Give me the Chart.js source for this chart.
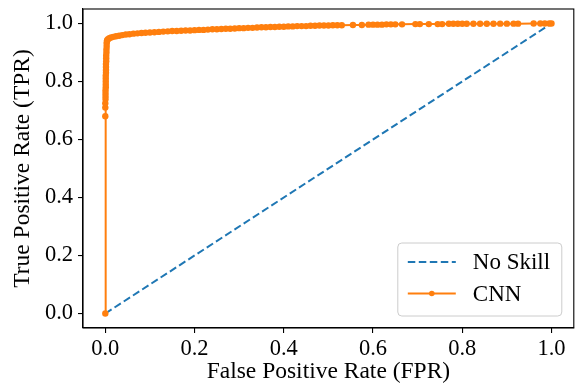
<!DOCTYPE html>
<html>
<head>
<meta charset="utf-8">
<script src="https://cdn.jsdelivr.net/npm/chart.js@4.4.1/dist/chart.umd.min.js"></script>
<style>
  html, body { margin: 0; padding: 0; background: #fff; }
  #wrap { width: 577px; height: 389px; }
</style>
</head>
<body>
<div id="wrap"><canvas id="roc"></canvas></div>
<script>
// --- data ---
const xTicks = [0.0, 0.2, 0.4, 0.6, 0.8, 1.0];
const yTicks = [0.0, 0.2, 0.4, 0.6, 0.8, 1.0];

const noSkillFpr = [0, 1];
const noSkillTpr = [0, 1];

const cnnFpr = [
  0, 0, 0, 0, 0.0005, 0.0005, 0.0005, 0.0005, 0.001, 0.001, 0.001, 0.001, 0.001,
  0.0015, 0.0015, 0.0015, 0.0015, 0.002, 0.002, 0.002, 0.0025, 0.0025, 0.003, 0.003, 0.0035, 0.004,
  0.006, 0.009, 0.013, 0.018, 0.024, 0.031, 0.038, 0.046, 0.054, 0.063, 0.072, 0.081, 0.09, 0.1,
  0.11, 0.12, 0.13, 0.14, 0.15, 0.16, 0.17, 0.18, 0.19, 0.2,
  0.21, 0.22, 0.23, 0.24, 0.25, 0.26, 0.27, 0.28, 0.29, 0.30,
  0.31, 0.32, 0.33, 0.34, 0.35, 0.36, 0.37, 0.38, 0.39, 0.40,
  0.41, 0.42, 0.43, 0.44, 0.45, 0.46, 0.47, 0.48, 0.49, 0.50,
  0.51, 0.52, 0.53, 0.555, 0.575, 0.59, 0.60, 0.61, 0.62, 0.63, 0.64, 0.65, 0.665,
  0.695, 0.705, 0.725, 0.745, 0.755, 0.77, 0.78, 0.79, 0.80, 0.81, 0.825, 0.84, 0.855, 0.87,
  0.885, 0.9, 0.915, 0.925, 0.96, 0.975, 0.985, 0.995, 1.0
];
const cnnTpr = [
  0, 0.68, 0.71, 0.725, 0.74, 0.75, 0.76, 0.77, 0.78, 0.79, 0.80, 0.81, 0.82,
  0.83, 0.84, 0.85, 0.86, 0.87, 0.88, 0.89, 0.90, 0.91, 0.92, 0.93, 0.937, 0.942,
  0.946, 0.949, 0.952, 0.954, 0.956, 0.958, 0.960, 0.962, 0.963, 0.965, 0.966, 0.967, 0.968, 0.969,
  0.970, 0.971, 0.972, 0.973, 0.974, 0.974, 0.975, 0.976, 0.976, 0.977,
  0.978, 0.978, 0.979, 0.980, 0.980, 0.981, 0.982, 0.982, 0.983, 0.984,
  0.984, 0.985, 0.985, 0.986, 0.987, 0.987, 0.988, 0.988, 0.989, 0.989,
  0.990, 0.990, 0.991, 0.991, 0.991, 0.992, 0.992, 0.993, 0.993, 0.993,
  0.994, 0.994, 0.994, 0.995, 0.995, 0.996, 0.996, 0.996, 0.996, 0.997, 0.997, 0.997, 0.997,
  0.998, 0.998, 0.998, 0.998, 0.998, 0.999, 0.999, 0.999, 0.999, 0.999, 0.999, 0.999, 0.999, 0.999,
  0.9995, 0.9995, 0.9995, 0.9995, 1.0, 1.0, 1.0, 1.0, 1.0
];

const FONT = "'Liberation Serif', 'Times New Roman', serif";
const BLUE = '#1f77b4';
const ORANGE = '#ff7f0e';

const toPoints = (xs, ys) => xs.map((x, i) => ({ x, y: ys[i] }));

// matplotlib-style box around the axes
const framePlugin = {
  id: 'frame',
  afterDatasetsDraw(chart) {
    const { ctx, chartArea: a } = chart;
    ctx.save();
    ctx.strokeStyle = '#000';
    ctx.lineWidth = 1.1;
    ctx.strokeRect(a.left, a.top, a.right - a.left, a.bottom - a.top);
    ctx.restore();
  }
};

// legend box in the lower right corner, like matplotlib's
const legendPlugin = {
  id: 'boxLegend',
  afterDraw(chart) {
    const { ctx, chartArea: a } = chart;
    const w = 164, h = 73;
    const x0 = a.right - 12 - w, y0 = a.bottom - 12 - h;
    ctx.save();
    ctx.beginPath();
    ctx.roundRect(x0, y0, w, h, 4);
    ctx.fillStyle = 'rgba(255,255,255,0.8)';
    ctx.fill();
    ctx.strokeStyle = '#cccccc';
    ctx.lineWidth = 1;
    ctx.stroke();

    const rows = [y0 + 19, y0 + 50.5];
    chart.data.datasets.forEach((ds, i) => {
      const y = rows[i];
      ctx.beginPath();
      ctx.setLineDash(ds.borderDash || []);
      ctx.strokeStyle = ds.borderColor;
      ctx.lineWidth = ds.borderWidth;
      ctx.moveTo(x0 + 10, y);
      ctx.lineTo(x0 + 58, y);
      ctx.stroke();
      ctx.setLineDash([]);
      if (ds.pointRadius > 0) {
        ctx.beginPath();
        ctx.arc(x0 + 34, y, 2.8, 0, Math.PI * 2);
        ctx.fillStyle = ds.borderColor;
        ctx.fill();
      }
      ctx.fillStyle = '#000';
      ctx.font = `23px ${FONT}`;
      ctx.textBaseline = 'middle';
      ctx.fillText(ds.label, x0 + 75, y + 1);
    });
    ctx.restore();
  }
};

const axisCommon = (ticks, title) => ({
  type: 'linear',
  min: -0.05,
  max: 1.05,
  afterBuildTicks: (scale) => { scale.ticks = ticks.map(v => ({ value: v })); },
  ticks: {
    color: '#000',
    font: { family: FONT, size: 22.5 },
    autoSkip: false,
    maxRotation: 0,
    callback: (v) => Number(v).toFixed(1)
  },
  grid: { drawOnChartArea: false, drawTicks: true, tickLength: 5, color: '#000', lineWidth: 1.1 },
  border: { display: true, color: '#000', width: 1.1 },
  title: { display: true, text: title, color: '#000', font: { family: FONT, size: 23.5 } }
});

const xAxis = axisCommon(xTicks, 'False Positive Rate (FPR)');
xAxis.ticks.padding = 3;
xAxis.title.padding = { top: 0, bottom: 3 };
xAxis.afterFit = (scale) => { scale.height = 61; };

const yAxis = axisCommon(yTicks, 'True Positive Rate (TPR)');
yAxis.ticks.padding = 5;
yAxis.title.padding = { top: 9, bottom: 0 };
yAxis.afterFit = (scale) => {
  scale.width = 83;
  // end labels sit inside the axis range, so no extra room is needed
  scale.paddingTop = 0;
  scale.paddingBottom = 0;
};

new Chart(document.getElementById('roc'), {
  type: 'scatter',
  data: {
    datasets: [{
      label: 'No Skill',
      data: toPoints(noSkillFpr, noSkillTpr),
      showLine: true,
      borderColor: BLUE,
      backgroundColor: BLUE,
      borderWidth: 2,
      borderDash: [7.5, 3.5],
      pointRadius: 0,
      order: 1
    }, {
      label: 'CNN',
      data: toPoints(cnnFpr, cnnTpr),
      showLine: true,
      borderColor: ORANGE,
      backgroundColor: ORANGE,
      borderWidth: 2,
      pointRadius: 3.2,
      pointBorderWidth: 0,
      pointHoverRadius: 3.2,
      order: 0
    }]
  },
  options: {
    responsive: true,
    maintainAspectRatio: false,
    animation: false,
    layout: { padding: { top: 9, right: 3, left: 0, bottom: 0 } },
    plugins: { legend: { display: false }, tooltip: { enabled: false } },
    scales: { x: xAxis, y: yAxis }
  },
  plugins: [framePlugin, legendPlugin]
});
</script>
</body>
</html>
